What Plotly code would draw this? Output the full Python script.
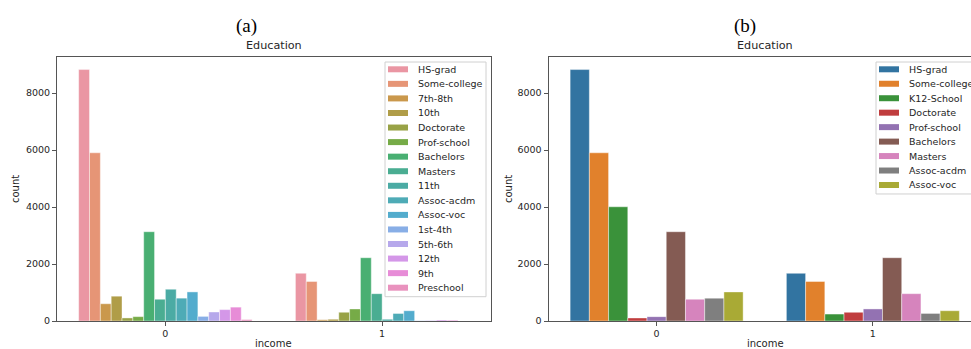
import math
import colorsys
import plotly.graph_objects as go
from plotly.subplots import make_subplots

# ---------------- data ----------------
income = ["0", "1"]

edu_a = ["HS-grad", "Some-college", "7th-8th", "10th", "Doctorate", "Prof-school",
         "Bachelors", "Masters", "11th", "Assoc-acdm", "Assoc-voc", "1st-4th",
         "5th-6th", "12th", "9th", "Preschool"]
a_income0 = [8826, 5904, 606, 871, 107, 153, 3134, 764, 1115, 802, 1021, 162, 317, 400, 487, 51]
a_income1 = [1675, 1387, 40, 62, 306, 423, 2221, 959, 60, 265, 361, 6, 16, 33, 27, 0]

edu_b = ["HS-grad", "Some-college", "K12-School", "Doctorate", "Prof-school",
         "Bachelors", "Masters", "Assoc-acdm", "Assoc-voc"]
b_income0 = [8826, 5904, 4009, 107, 153, 3134, 764, 802, 1021]
b_income1 = [1675, 1387, 244, 306, 423, 2221, 959, 265, 361]

y_ticks = [0, 2000, 4000, 6000, 8000]

# ---------------- colours (seaborn husl + desaturation) ----------------
M = [[3.2406, -1.5372, -0.4986], [-0.9689, 1.8758, 0.0415], [0.0557, -0.2040, 1.0570]]
refU, refV = 0.19784, 0.46834
lab_e, lab_k = 0.008856, 903.3


def max_chroma(L, H):
    hrad = math.radians(H)
    sinH, cosH = math.sin(hrad), math.cos(hrad)
    sub1 = (L + 16) ** 3 / 1560896.0
    sub2 = sub1 if sub1 > 0.008856 else L / 903.3
    result = float("inf")
    for m1, m2, m3 in M:
        top = (0.99915 * m1 + 1.05122 * m2 + 1.14460 * m3) * sub2
        rbottom = 0.86330 * m3 - 0.17266 * m2
        lbottom = 0.12949 * m3 - 0.38848 * m1
        bottom = (rbottom * sinH + lbottom * cosH) * sub2
        for t in (0.0, 1.0):
            C = L * (top - 1.05122 * t) / (bottom + 0.17266 * sinH * t)
            if 0.0 < C < result:
                result = C
    return result


def husl_to_rgb(h, s, l):
    C = max_chroma(l, h) / 100.0 * s
    hr = math.radians(h)
    U, V = C * math.cos(hr), C * math.sin(hr)
    L = l
    t = (L + 16.0) / 116.0
    varY = t ** 3 if t ** 3 > lab_e else (116 * t - 16) / lab_k
    varU = U / (13.0 * L) + refU
    varV = V / (13.0 * L) + refV
    Y = varY
    X = -(9.0 * Y * varU) / ((varU - 4.0) * varV - varU * varV)
    Z = (9.0 * Y - 15.0 * varV * Y - varV * X) / (3.0 * varV)
    out = []
    for row in M:
        c = row[0] * X + row[1] * Y + row[2] * Z
        c = 12.92 * c if c <= 0.0031308 else 1.055 * c ** (1 / 2.4) - 0.055
        out.append(min(max(c, 0.0), 1.0))
    return out


def desat(rgb, p=0.75):
    h, l, s = colorsys.rgb_to_hls(*rgb)
    return colorsys.hls_to_rgb(h, l, s * p)


def to_hex(rgb):
    return "#%02x%02x%02x" % tuple(int(round(c * 255)) for c in rgb)


n = len(edu_a)
colors_a = []
for i in range(n):
    hue = ((i / n + 0.01) % 1) * 359
    colors_a.append(to_hex(desat(husl_to_rgb(hue, 0.9 * 99, 0.7 * 99))))

tab10 = ["#1f77b4", "#ff7f0e", "#2ca02c", "#d62728", "#9467bd",
         "#8c564b", "#e377c2", "#7f7f7f", "#bcbd22"]
colors_b = []
for hx in tab10[:len(edu_b)]:
    rgb = [int(hx[k:k + 2], 16) / 255 for k in (1, 3, 5)]
    colors_b.append(to_hex(desat(rgb)))

# ---------------- figure ----------------
W, H = 971, 349
fig = make_subplots(rows=1, cols=2)

for i, name in enumerate(edu_a):
    fig.add_trace(go.Bar(x=income, y=[a_income0[i], a_income1[i]], name=name,
                         marker=dict(color=colors_a[i],
                                     line=dict(color="rgba(255,255,255,0.7)", width=0.6)),
                         showlegend=False), row=1, col=1)
for i, name in enumerate(edu_b):
    fig.add_trace(go.Bar(x=income, y=[b_income0[i], b_income1[i]], name=name,
                         marker=dict(color=colors_b[i],
                                     line=dict(color="rgba(255,255,255,0.7)", width=0.6)),
                         showlegend=False), row=1, col=2)

TXT = "#262626"
SPINE = "#555555"
tickfont = dict(family="DejaVu Sans", size=9.5, color=TXT)
ytop = max(a_income0 + a_income1) * 1.05


def px(x):
    return x / W


def py(y):
    return 1 - y / H


common_x = dict(type="category", showline=True, linecolor=SPINE, linewidth=1,
                ticks="outside", ticklen=4, tickcolor=SPINE, tickfont=tickfont,
                showgrid=False, zeroline=False, fixedrange=True, automargin=False)
common_y = dict(range=[0, ytop], tickvals=y_ticks, tickformat="d", showline=True,
                linecolor=SPINE, linewidth=1, ticks="outside", ticklen=4,
                tickcolor=SPINE, tickfont=tickfont, showgrid=False, zeroline=False,
                automargin=False, fixedrange=True)

fig.update_layout(
    width=W, height=H, margin=dict(l=0, r=0, t=0, b=0, pad=0, autoexpand=False),
    barmode="group", bargap=0.2, bargroupgap=0, hovermode=False,
    plot_bgcolor="white", paper_bgcolor="white", showlegend=False,
    xaxis=dict(domain=[px(57), px(490.5)], range=[-0.5, 1.5], mirror=True, **common_x),
    yaxis=dict(domain=[py(321), py(57)], mirror=True, **common_y),
    xaxis2=dict(domain=[px(548.5), 1.0], range=[-0.5, (971 - 657) / 216.0], mirror=True, **common_x),
    yaxis2=dict(domain=[py(321), py(57)], mirror=False, **common_y),
)

ann = []
shapes = []


def text(x, y, s, size, family="DejaVu Sans", color=TXT, angle=0, xanchor="center"):
    ann.append(dict(x=px(x), y=py(y), text=s, showarrow=False, xref="paper", yref="paper",
                    xanchor=xanchor, yanchor="middle", textangle=angle,
                    font=dict(family=family, size=size, color=color)))


# panel labels and titles
text(246.5, 26, "(a)", 19, family="Liberation Serif", color="black")
text(744.5, 26, "(b)", 19, family="Liberation Serif", color="black")
for cx in (273.75, 765):
    text(cx, 46, "Education", 11.2)
    text(cx, 343, "income", 10)
for cx in (15, 508):
    text(cx, 189, "count", 10, angle=-90)


# legends drawn from the category / colour lists
def legend(names, cols, left, top, right, first, step):
    bottom = first + step * (len(names) - 1) + 9
    shapes.append(dict(type="rect", xref="paper", yref="paper", x0=px(left), x1=px(right),
                       y0=py(bottom), y1=py(top), fillcolor="rgba(255,255,255,0.8)",
                       line=dict(color="#d0d0d0", width=1), layer="above"))
    for k, (nm, c) in enumerate(zip(names, cols)):
        yc = first + k * step
        shapes.append(dict(type="rect", xref="paper", yref="paper", x0=px(left + 3),
                           x1=px(left + 23), y0=py(yc + 3), y1=py(yc - 3),
                           fillcolor=c, line=dict(width=0), layer="above"))
        text(left + 31, yc, nm, 9.5, xanchor="left")


legend(edu_a, colors_a, 385, 62, 486, 69.3, 14.56)
legend(edu_b, colors_b, 876, 62, 990, 69.3, 14.46)

fig.update_layout(annotations=ann, shapes=shapes)
fig.write_html(
    "out.html",
    config={"displayModeBar": False, "staticPlot": True},
    post_script="document.body.style.margin='0';document.body.style.overflow='hidden';",
)
